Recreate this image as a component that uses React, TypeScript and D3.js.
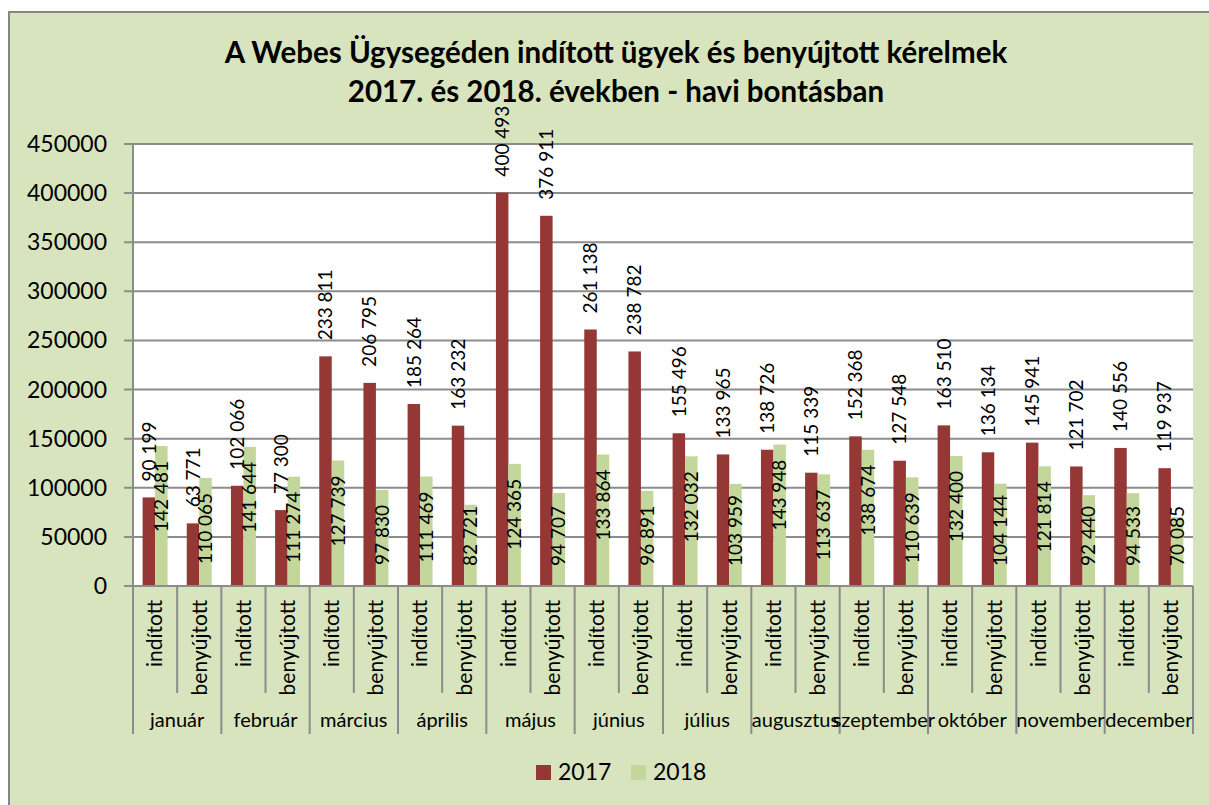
import React, { useEffect, useRef } from 'react';
import * as d3 from 'd3';

// Webes Ügysegéd - havi bontás, 2017 vs 2018

const months = ['január', 'február', 'március', 'április', 'május', 'június', 'július', 'augusztus', 'szeptember', 'október', 'november', 'december'];
const kinds = ['indított', 'benyújtott'];
const years = ['2017', '2018'];

const indított2017 = [90199, 102066, 233811, 185264, 400493, 261138, 155496, 138726, 152368, 163510, 145941, 140556];
const benyújtott2017 = [63771, 77300, 206795, 163232, 376911, 238782, 133965, 115339, 127548, 136134, 121702, 119937];
const indított2018 = [142481, 141644, 127739, 111469, 124365, 133864, 132032, 143948, 138674, 132400, 121814, 94533];
const benyújtott2018 = [110065, 111274, 97830, 82721, 94707, 96891, 103959, 113637, 110639, 104144, 92440, 70085];

const yTicks = [0, 50000, 100000, 150000, 200000, 250000, 300000, 350000, 400000, 450000];

const colors = { '2017': '#953735', '2018': '#c3d69b' };
const FONT = 'Lato, "Liberation Sans", sans-serif';

export default function App() {
  const ref = useRef<SVGSVGElement>(null);

  useEffect(() => {
    const svg = d3.select(ref.current);
    svg.selectAll('*').remove();

    const W = 1209, H = 805;
    const plot = { left: 133, right: 1193, top: 144, bottom: 586 };

    // slots: month x kind
    const rows = months.flatMap((m, i) => [
      { month: m, mi: i, kind: kinds[0], key: m + '|' + kinds[0], v2017: indított2017[i], v2018: indított2018[i] },
      { month: m, mi: i, kind: kinds[1], key: m + '|' + kinds[1], v2017: benyújtott2017[i], v2018: benyújtott2018[i] },
    ]);

    const x0 = d3.scaleBand().domain(rows.map(r => r.key)).range([plot.left, plot.right]);
    const x1 = d3.scaleBand().domain(years).range([0, x0.bandwidth()]).paddingOuter(0.77);
    const xm = d3.scaleBand().domain(months).range([plot.left, plot.right]);
    const y = d3.scaleLinear().domain([0, 450000]).range([plot.bottom, plot.top]);

    const fmt = d3.formatLocale({ thousands: ' ', grouping: [3], decimal: ',', currency: ['', ''] }).format(',d');

    // chart background
    svg.append('rect').attr('x', 9).attr('y', 12).attr('width', W).attr('height', H)
      .attr('fill', '#d7e4bd').attr('stroke', '#868686').attr('stroke-width', 2);

    // title
    const title = svg.append('text').attr('text-anchor', 'middle')
      .style('font-family', FONT).style('font-weight', 'bold').style('font-size', '29.5px').attr('fill', '#000');
    title.append('tspan').attr('x', 616).attr('y', 63).text('A Webes Ügysegéden indított ügyek és benyújtott kérelmek');
    title.append('tspan').attr('x', 616).attr('y', 102).text('2017. és 2018. években - havi bontásban');

    // plot area
    svg.append('rect').attr('x', plot.left).attr('y', plot.top)
      .attr('width', plot.right - plot.left).attr('height', plot.bottom - plot.top).attr('fill', '#fff');

    // gridlines + y ticks
    const g = svg.append('g');
    g.selectAll('.grid').data(yTicks).join('line').attr('class', 'grid')
      .attr('x1', plot.left - 9).attr('x2', plot.right)
      .attr('y1', d => y(d)).attr('y2', d => y(d))
      .attr('stroke', '#8c8c8c').attr('stroke-width', 2);
    g.selectAll('.ylab').data(yTicks).join('text').attr('class', 'ylab')
      .attr('x', 107).attr('y', d => y(d)).attr('dy', '0.35em').attr('text-anchor', 'end')
      .style('font-family', FONT).style('font-size', '23px').text(d => d3.format('d')(d));

    // y axis line
    svg.append('line').attr('x1', plot.left).attr('x2', plot.left).attr('y1', plot.top).attr('y2', 734)
      .attr('stroke', '#8c8c8c').attr('stroke-width', 2);

    // bars
    const groups = svg.selectAll('.slot').data(rows).join('g').attr('class', 'slot')
      .attr('transform', d => `translate(${x0(d.key)},0)`);

    groups.selectAll('rect').data(d => years.map(yr => ({ yr, v: yr === '2017' ? d.v2017 : d.v2018 })))
      .join('rect')
      .attr('x', d => x1(d.yr)!)
      .attr('width', x1.bandwidth())
      .attr('y', d => y(d.v))
      .attr('height', d => plot.bottom - y(d.v))
      .attr('fill', d => colors[d.yr as '2017' | '2018']);

    // value labels
    groups.each(function (d) {
      const grp = d3.select(this);
      // 2017: outside end
      const cx17 = x1('2017')! + x1.bandwidth() / 2;
      grp.append('text')
        .attr('transform', `translate(${cx17},${y(d.v2017) - 16}) rotate(-90)`)
        .attr('dy', '0.35em').attr('text-anchor', 'start')
        .style('font-family', FONT).style('font-size', '19px').text(fmt(d.v2017));
      // 2018: inside end, kept above the axis
      const cx18 = x1('2018')! + x1.bandwidth() / 2;
      const t = grp.append('text')
        .attr('dy', '0.35em')
        .style('font-family', FONT).style('font-size', '19px').text(fmt(d.v2018));
      const len = (t.node() as SVGTextElement).getComputedTextLength();
      let top = y(d.v2018) + 15;
      if (top + len > 566) top = 566 - len;
      t.attr('transform', `translate(${cx18},${top}) rotate(-90)`).attr('text-anchor', 'end');
    });

    // category axis
    svg.append('line').attr('x1', plot.left).attr('x2', plot.right).attr('y1', plot.bottom).attr('y2', plot.bottom)
      .attr('stroke', '#8c8c8c').attr('stroke-width', 2);
    svg.selectAll('.kindtick').data(rows).join('line').attr('class', 'kindtick')
      .attr('x1', d => x0(d.key)! + x0.bandwidth()).attr('x2', d => x0(d.key)! + x0.bandwidth())
      .attr('y1', plot.bottom).attr('y2', d => d.kind === kinds[0] ? 693 : 734)
      .attr('stroke', '#8c8c8c').attr('stroke-width', 2);

    svg.selectAll('.kindlab').data(rows).join('text').attr('class', 'kindlab')
      .attr('transform', d => `translate(${x0(d.key)! + x0.bandwidth() / 2},600) rotate(-90)`)
      .attr('dy', '0.35em').attr('text-anchor', 'end')
      .style('font-family', FONT).style('font-size', '21px').text(d => d.kind);

    svg.selectAll('.monthlab').data(months).join('text').attr('class', 'monthlab')
      .attr('x', d => xm(d)! + xm.bandwidth() / 2).attr('y', 727).attr('text-anchor', 'middle')
      .style('font-family', FONT).style('font-size', '20px').text(d => d);

    // legend
    const legend = svg.selectAll('.leg').data(years).join('g').attr('class', 'leg')
      .attr('transform', (d, i) => `translate(${536 + i * 95},765)`);
    legend.append('rect').attr('width', 15).attr('height', 15).attr('fill', d => colors[d as '2017' | '2018']);
    legend.append('text').attr('x', 22).attr('y', 15)
      .style('font-family', FONT).style('font-size', '23px').text(d => d);
  }, []);

  return (
    <svg ref={ref} width={1209} height={805} style={{ position: 'absolute', left: 0, top: 0, display: 'block' }} />
  );
}
